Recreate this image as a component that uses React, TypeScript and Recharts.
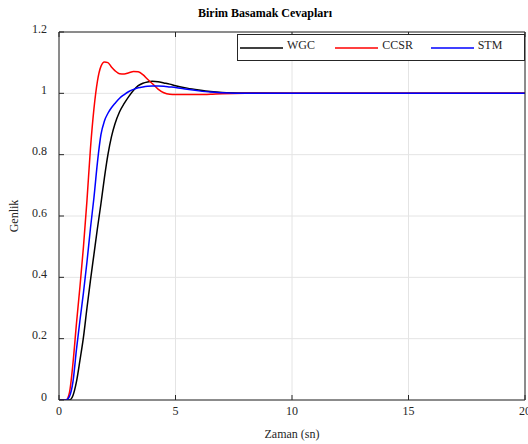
import { LineChart, Line, XAxis, YAxis, CartesianGrid, Legend, Label } from 'recharts'

// zaman ekseni (sn)
const times = [0, 0.3, 0.45, 0.6, 0.75, 0.9, 1.05, 1.2, 1.35, 1.5, 1.65, 1.8, 1.95, 2.1, 2.25, 2.4, 2.6, 2.8, 3.0, 3.2, 3.4, 3.6, 3.8, 4.0, 4.25, 4.5, 4.75, 5.0, 5.5, 6.0, 6.5, 7.0, 8, 10, 12, 14, 16, 18, 20]

const wgc = [0, 0, 0, 0.015, 0.06, 0.13, 0.205, 0.3, 0.39, 0.475, 0.56, 0.64, 0.725, 0.8, 0.858, 0.9, 0.94, 0.967, 0.99, 1.01, 1.025, 1.033, 1.037, 1.039, 1.038, 1.034, 1.03, 1.025, 1.017, 1.011, 1.006, 1.003, 1.001, 1, 1, 1, 1, 1, 1]
const ccsr = [0, 0, 0.025, 0.12, 0.25, 0.37, 0.5, 0.65, 0.82, 0.95, 1.04, 1.088, 1.102, 1.1, 1.086, 1.074, 1.064, 1.063, 1.067, 1.071, 1.07, 1.061, 1.046, 1.032, 1.014, 1.002, 0.997, 0.996, 0.996, 0.996, 0.997, 0.999, 1, 1, 1, 1, 1, 1, 1]
const stm = [0, 0, 0.012, 0.06, 0.165, 0.26, 0.35, 0.45, 0.56, 0.66, 0.775, 0.865, 0.91, 0.935, 0.953, 0.967, 0.984, 0.996, 1.006, 1.013, 1.018, 1.021, 1.023, 1.024, 1.024, 1.023, 1.021, 1.019, 1.013, 1.008, 1.004, 1.002, 1, 1, 1, 1, 1, 1, 1]

const xTicks = [0, 5, 10, 15, 20]
const yTicks = [0, 0.2, 0.4, 0.6, 0.8, 1, 1.2]

const series = [
  { key: 'wgc', name: 'WGC', color: '#000000' },
  { key: 'ccsr', name: 'CCSR', color: '#ff0000' },
  { key: 'stm', name: 'STM', color: '#0000ff' }
]

const data = times.map((t, i) => ({ t, wgc: wgc[i], ccsr: ccsr[i], stm: stm[i] }))

const axisColor = '#262626'
const font = '"Liberation Serif", "Times New Roman", serif'

const BottomTick = (props: any) => {
  const { x, y, payload } = props
  return (
    <g>
      <line x1={x} x2={x} y1={y} y2={y - 5} stroke={axisColor} />
      <text x={x} y={y + 15} textAnchor='middle' fontSize={12} fill={axisColor} fontFamily={font}>
        {payload.value}
      </text>
    </g>
  )
}

const TopTick = (props: any) => {
  const { x, y } = props
  return <line x1={x} x2={x} y1={y} y2={y + 5} stroke={axisColor} />
}

const LeftTick = (props: any) => {
  const { x, y, payload } = props
  return (
    <g>
      <line x1={x} x2={x + 5} y1={y} y2={y} stroke={axisColor} />
      <text x={x - 12} y={y + 0.5} textAnchor='end' fontSize={12} fill={axisColor} fontFamily={font}>
        {payload.value}
      </text>
    </g>
  )
}

const RightTick = (props: any) => {
  const { x, y } = props
  return <line x1={x} x2={x - 5} y1={y} y2={y} stroke={axisColor} />
}

const LegendBox = () => (
  <div
    style={{
      boxSizing: 'border-box',
      width: 288,
      height: 27,
      border: `1px solid ${axisColor}`,
      background: '#fff',
      display: 'flex',
      alignItems: 'center',
      fontFamily: font,
      fontSize: 12,
      color: axisColor
    }}
  >
    {series.map((s) => (
      <div key={s.key} style={{ width: 97, paddingLeft: 2, display: 'flex', alignItems: 'center', boxSizing: 'border-box' }}>
        <svg width={43} height={10} style={{ marginRight: 4 }}>
          <line x1={0} x2={43} y1={5} y2={5} stroke={s.color} strokeWidth={1.5} />
        </svg>
        <span style={{ position: 'relative', top: -2 }}>{s.name}</span>
      </div>
    ))}
  </div>
)

export default function App() {
  return (
    <div style={{ position: 'absolute', left: 0, top: 0, width: 528, height: 444, background: '#fff', fontFamily: font }}>
      <div
        style={{
          position: 'absolute',
          left: 0,
          width: 530,
          top: 6,
          textAlign: 'center',
          fontWeight: 'bold',
          fontSize: 12,
          color: '#000'
        }}
      >
        Birim Basamak Cevapları
      </div>
      <LineChart width={528} height={444} data={data} margin={{ top: 31, right: 2, bottom: 0, left: 0 }}>
        <CartesianGrid stroke='#e4e4e4' />
        <XAxis
          dataKey='t'
          type='number'
          domain={[0, 20]}
          ticks={xTicks}
          interval={0}
          height={44}
          tickSize={0}
          tickMargin={0}
          tick={<BottomTick />}
          stroke={axisColor}
          allowDataOverflow
        >
          <Label value='Zaman (sn)' position='insideBottom' offset={6} fontSize={12} fill={axisColor} fontFamily={font} />
        </XAxis>
        <XAxis
          xAxisId='top'
          orientation='top'
          dataKey='t'
          type='number'
          domain={[0, 20]}
          ticks={xTicks}
          interval={0}
          height={1}
          tickSize={0}
          tickMargin={0}
          tick={<TopTick />}
          stroke={axisColor}
        />
        <YAxis
          type='number'
          domain={[0, 1.2]}
          ticks={yTicks}
          interval={0}
          width={59}
          tickSize={0}
          tickMargin={0}
          tick={<LeftTick />}
          stroke={axisColor}
          allowDataOverflow
        >
          <Label value='Genlik' angle={-90} position='insideLeft' offset={14} fontSize={12} fill={axisColor} fontFamily={font} style={{ textAnchor: 'middle' }} />
        </YAxis>
        <YAxis
          yAxisId='right'
          orientation='right'
          type='number'
          domain={[0, 1.2]}
          ticks={yTicks}
          interval={0}
          width={1}
          tickSize={0}
          tickMargin={0}
          tick={<RightTick />}
          stroke={axisColor}
        />
        <Legend
          layout='vertical'
          align='center'
          verticalAlign='middle'
          wrapperStyle={{ position: 'absolute', left: 237, top: 34, width: 288, height: 27 }}
          content={<LegendBox />}
        />
        {series.map((s) => (
          <Line
            key={s.key}
            type='monotone'
            dataKey={s.key}
            name={s.name}
            stroke={s.color}
            strokeWidth={1.5}
            dot={false}
            activeDot={false}
            isAnimationActive={false}
          />
        ))}
      </LineChart>
    </div>
  )
}
